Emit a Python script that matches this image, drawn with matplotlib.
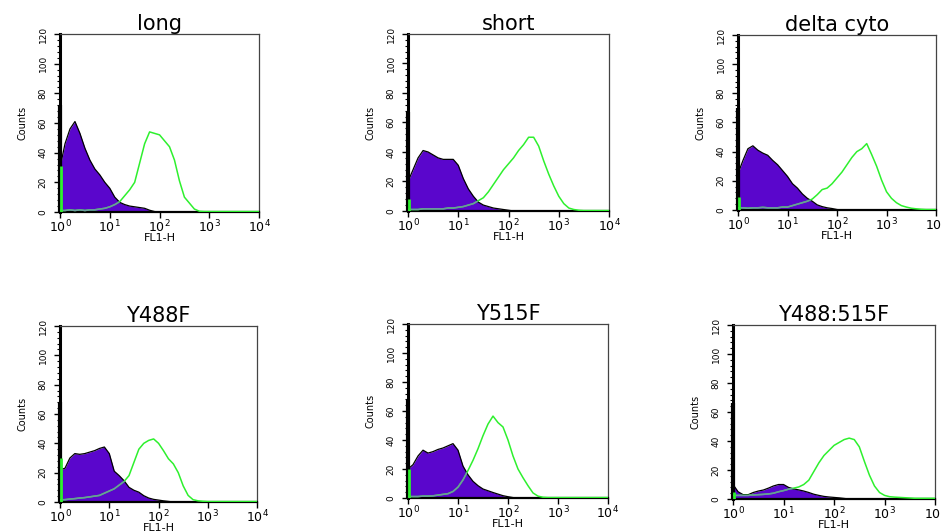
import numpy as np
import matplotlib
matplotlib.use("Agg")
import matplotlib.pyplot as plt
from matplotlib.ticker import MultipleLocator, LogLocator, NullFormatter

plt.rcParams['font.family'] = ['DejaVu Sans']
plt.rcParams['mathtext.default'] = 'regular'

# channel grid: log10 of FL1-H, 0.1 decade per point
decades = np.linspace(0, 4, 41)

titles = ['long', 'short', 'delta cyto', 'Y488F', 'Y515F', 'Y488:515F']

# first-channel pile-up (counts at 10^0)
purple_spike = [72, 67, 70, 68, 68, 66]
green_spike = [31, 8, 9, 30, 20, 5]

# filled (control) histograms
long_purple = [30, 46, 56, 61, 53, 43, 35, 29, 25, 20,
               16, 10, 6.5, 5, 4, 3.5, 3, 2.5, 1.2, 0.3,
               0, 0, 0, 0, 0, 0, 0, 0, 0, 0,
               0, 0, 0, 0, 0, 0, 0, 0, 0, 0,
               0]
short_purple = [20, 28, 36, 41, 40, 38, 36, 35, 35, 35,
                31, 22, 15, 10, 6, 4, 3, 2, 1.5, 1,
                0.5, 0, 0, 0, 0, 0, 0, 0, 0, 0,
                0, 0, 0, 0, 0, 0, 0, 0, 0, 0,
                0]
delta_purple = [25, 34, 42, 44, 41, 39, 37.5, 34, 31, 27,
                23, 18, 15, 11, 8, 6, 3.5, 2.3, 1.5, 1,
                0.3, 0, 0, 0, 0, 0, 0, 0, 0, 0,
                0, 0, 0, 0, 0, 0, 0, 0, 0, 0,
                0]
y488_purple = [22, 23, 30, 33, 32.5, 33, 34, 35, 36.5, 37.5,
               33, 21, 18, 14.5, 10, 8, 6.7, 4.3, 2.7, 1.8,
               1.3, 0.8, 0.4, 0, 0, 0, 0, 0, 0, 0,
               0, 0, 0, 0, 0, 0, 0, 0, 0, 0,
               0]
y515_purple = [20, 23, 29, 33, 31, 32, 33.5, 34.5, 36, 37.5,
               33, 22, 16, 11.5, 8.5, 6.2, 5, 3.8, 2.7, 1.6,
               0.9, 0.3, 0, 0, 0, 0, 0, 0, 0, 0,
               0, 0, 0, 0, 0, 0, 0, 0, 0, 0,
               0]
dbl_purple = [10, 5, 3, 3, 4.5, 5.5, 6.2, 7.5, 9, 10,
              10, 8, 7, 6.3, 5.5, 4.5, 3.3, 2.5, 1.8, 1.4,
              1.1, 0.8, 0.4, 0, 0, 0, 0, 0, 0, 0,
              0, 0, 0, 0, 0, 0, 0, 0, 0, 0,
              0]

# stained histograms (green outline)
long_green = [1, 1, 1.5, 1, 1.5, 1, 1.5, 1.5, 2, 2.5,
              3.5, 5, 7, 11, 15, 20, 33, 46, 54, 53,
              52, 48, 44, 35, 21, 10, 6, 2, 0.5, 0.3,
              0.3, 0.3, 0.3, 0.3, 0.3, 0.3, 0.3, 0.3, 0.3, 0.3,
              0.3]
short_green = [1, 1, 1, 1.5, 1.5, 1.5, 1.5, 1.5, 2, 2,
               2.5, 3, 4, 5, 7, 9, 13, 18, 23, 28,
               32, 36, 41, 45, 50, 50, 44, 34, 25, 17,
               10, 5, 2, 1, 0.5, 0.3, 0.3, 0.3, 0.3, 0.3,
               0.3]
delta_green = [1.5, 1.5, 1.2, 1.5, 1.5, 1.8, 1.5, 1.5, 1.5, 2,
               2, 3, 4, 5, 6, 7.5, 10.5, 14, 15, 18,
               22, 26, 31, 36, 40, 42, 45.5, 38, 30, 20.5,
               12.5, 8, 5, 3, 2, 1.2, 0.8, 0.5, 0.3, 0.3,
               0.3]
y488_green = [1.5, 1.6, 2, 2.3, 2.7, 3, 3.5, 4, 4.5, 6,
              7.5, 9, 11.5, 14, 18, 27, 36, 40, 42, 43,
              40, 35, 29.5, 26, 20, 11, 4.5, 1.6, 0.8, 0.5,
              0.3, 0.3, 0.3, 0.3, 0.3, 0.3, 0.3, 0.3, 0.3, 0.3,
              0.3]
y515_green = [1, 1, 1, 1.3, 1.3, 1.5, 2, 2.5, 3, 4.5,
              7.5, 12.5, 19, 26, 34, 43, 51, 56.5, 52, 49,
              40, 29, 20, 14, 8.5, 3.5, 1.3, 0.5, 0.3, 0.3,
              0.3, 0.3, 0.3, 0.3, 0.3, 0.3, 0.3, 0.3, 0.3, 0.3,
              0.3]
dbl_green = [2.5, 2.5, 2.5, 2.5, 2.8, 3, 3.2, 3.5, 4, 5,
             5.8, 6.8, 7.5, 8.3, 10, 13, 19, 25, 30, 33.5,
             37, 39, 41, 42, 41, 36, 26, 16.5, 9, 4.5,
             2.5, 1.6, 1.3, 1.1, 0.9, 0.7, 0.5, 0.5, 0.5, 0.5,
             0.5]

purples = [long_purple, short_purple, delta_purple, y488_purple, y515_purple, dbl_purple]
greens = [long_green, short_green, delta_green, y488_green, y515_green, dbl_green]

# axes rectangles in figure fraction (left, bottom, width, height)
rects = [
    (0.0638, 0.6015, 0.2115, 0.3346),
    (0.4336, 0.6034, 0.2136, 0.3327),
    (0.7843, 0.6053, 0.2104, 0.3290),
    (0.0638, 0.0564, 0.2094, 0.3308),
    (0.4336, 0.0639, 0.2125, 0.3270),
    (0.7790, 0.0620, 0.2147, 0.3270),
]

PURPLE = '#5a06cc'
GREEN = '#2ef02e'
MIXED = '#6c98a0'

fig = plt.figure(figsize=(9.41, 5.32), dpi=100)

for i in range(6):
    ax = fig.add_axes(rects[i])
    x = 10 ** decades
    p = np.array(purples[i])
    g = np.array(greens[i])

    poly = ax.fill_between(x, 0, p, color=PURPLE, lw=0, zorder=2)
    ax.plot(x, p, color='black', lw=0.9, zorder=3)

    # pile-up in first channel
    ax.plot([10 ** 0.006, 10 ** 0.006], [0, purple_spike[i]], color='black', lw=3,
            solid_capstyle='butt', zorder=4, clip_on=False)
    ax.plot([10 ** 0.02, 10 ** 0.02], [0, green_spike[i]], color=GREEN, lw=2,
            solid_capstyle='butt', zorder=5)

    ax.plot(x, g, color=GREEN, lw=1.1, zorder=4)
    inner, = ax.plot(x, g, color=MIXED, lw=1.1, zorder=4.5)
    inner.set_clip_path(poly.get_paths()[0], ax.transData)

    ax.set_xscale('log')
    ax.set_xlim(1, 1e4)
    ax.set_ylim(0, 120)
    ax.set_xticks([1, 10, 100, 1000, 10000])
    ax.set_xticklabels([r'$10^{0}$', r'$10^{1}$', r'$10^{2}$', r'$10^{3}$', r'$10^{4}$'],
                       fontsize=9)
    ax.xaxis.set_minor_locator(LogLocator(base=10, subs=np.arange(2, 10)))
    ax.xaxis.set_minor_formatter(NullFormatter())
    ax.set_yticks([0, 20, 40, 60, 80, 100, 120])
    ax.yaxis.set_minor_locator(MultipleLocator(4))
    ax.tick_params(axis='y', which='major', labelsize=6.5, labelrotation=90,
                   length=4, width=1, pad=5)
    ax.tick_params(axis='y', which='minor', length=2.5, width=0.8)
    ax.tick_params(axis='x', which='major', length=4, width=1, pad=0.5)
    ax.tick_params(axis='x', which='minor', length=2.5, width=0.8)
    for lab in ax.get_yticklabels():
        lab.set_va('center')

    ax.spines['left'].set_linewidth(2.2)
    ax.spines['bottom'].set_linewidth(1.6)
    ax.spines['top'].set_linewidth(0.9)
    ax.spines['right'].set_linewidth(0.9)
    ax.spines['top'].set_color('#444444')
    ax.spines['right'].set_color('#444444')

    ax.set_title(titles[i], fontsize=15, pad=2)
    ax.set_ylabel('Counts', fontsize=7, labelpad=8)
    ax.set_xlabel('FL1-H', fontsize=8, labelpad=-1)

fig.savefig('out.png', dpi=100)
